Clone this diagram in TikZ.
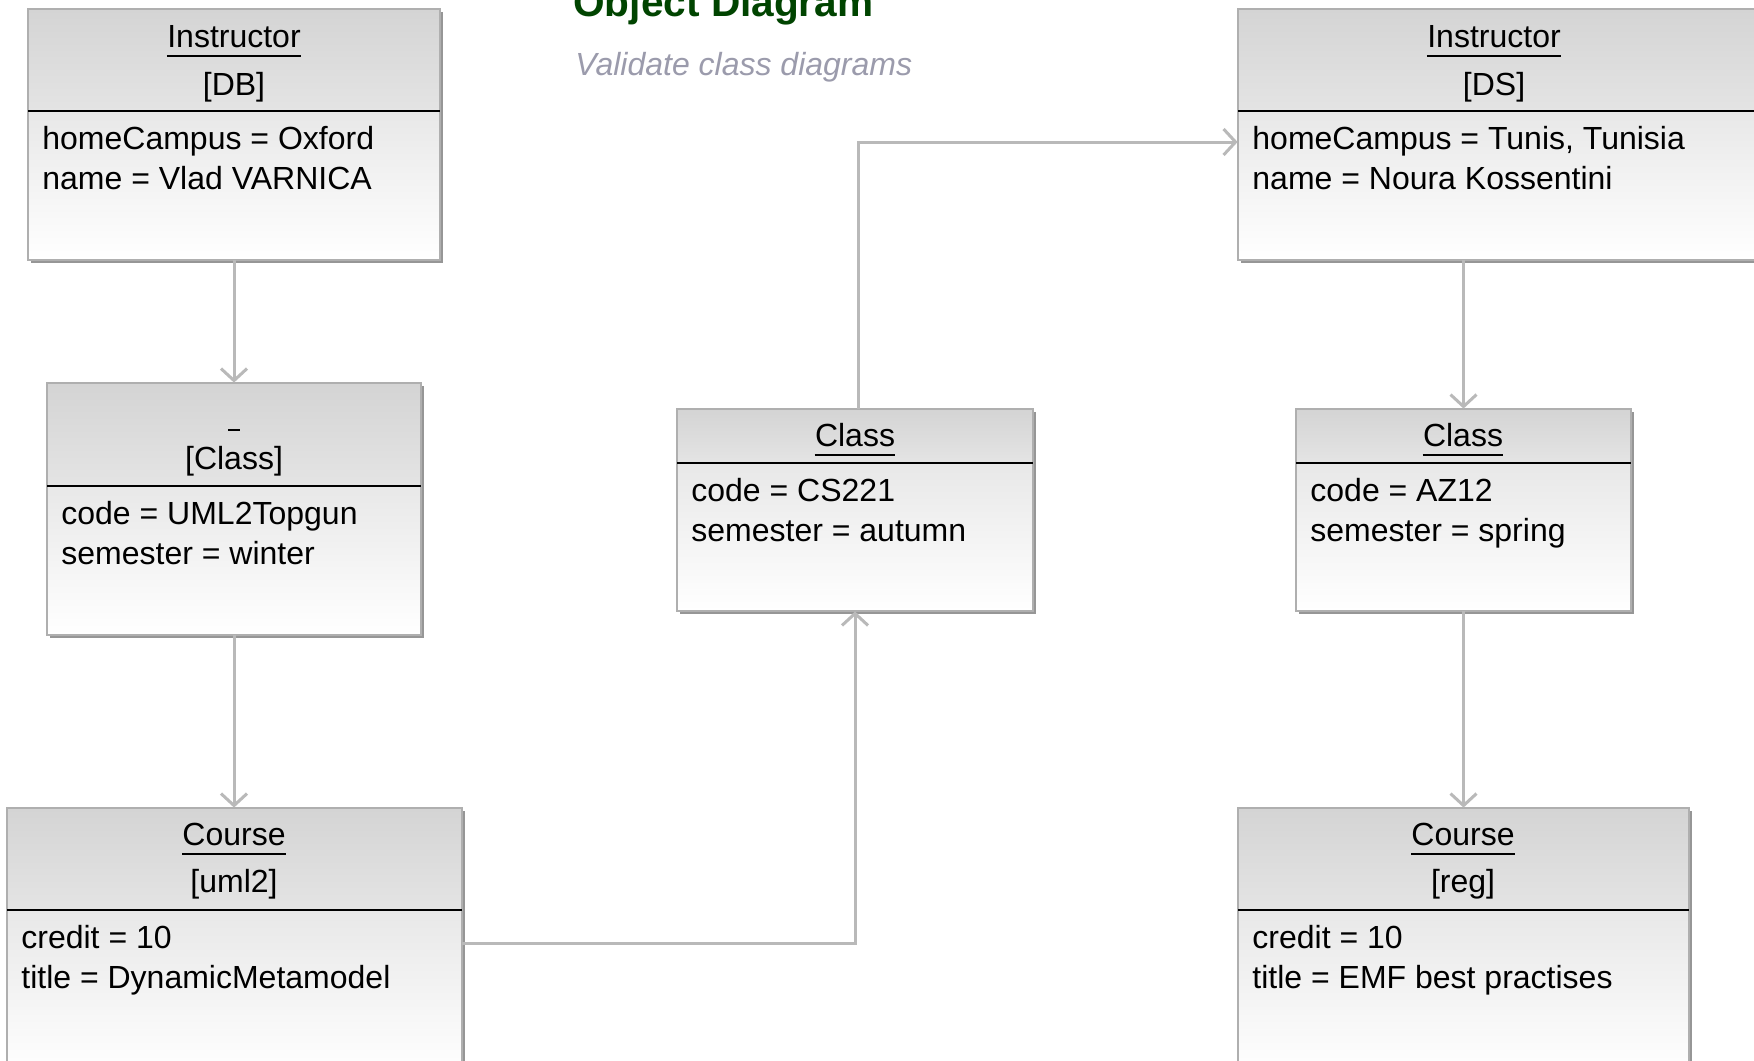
\documentclass[tikz,border=0pt]{standalone}
\usepackage{fontspec}
\setmainfont{Liberation Sans}
\usetikzlibrary{arrows.meta,fit}
\definecolor{conngray}{RGB}{185,185,185}
\definecolor{hdtop}{RGB}{212,212,212}
\definecolor{hdbot}{RGB}{228,228,228}
\definecolor{bdtop}{RGB}{232,232,232}
\definecolor{boxedge}{RGB}{175,175,175}
\definecolor{shadowgray}{RGB}{150,150,150}
\definecolor{titlegreen}{RGB}{0,68,0}
\definecolor{subgray}{RGB}{155,155,172}
\tikzset{
  txt/.style={inner sep=0pt, font=\fontsize{16}{20}\selectfont},
  conn/.style={draw=conngray, line width=1.5pt, -{Straight Barb[length=6pt,width=13pt]}},
}
\newcommand{\objbox}[6]{%
  \fill[shadowgray] (#2+3,#3+3) rectangle (#4+3,#5+3);
  \shade[top color=hdtop,bottom color=hdbot] (#2,#3) rectangle (#4,#6);
  \shade[top color=bdtop,bottom color=white] (#2,#6) rectangle (#4,#5);
  \draw[boxedge,line width=1pt] (#2,#3) rectangle (#4,#5);
  \draw[black,line width=1pt] (#2,#6) -- (#4,#6);
  \node[fit={(#2,#3) (#4,#5)},inner sep=0pt] (#1) {};
}
\newcommand{\ulname}[4]{%
  \node[txt,anchor=base] (#1) at (#2,#3) {#4};
  \draw[black,line width=1pt] ([yshift=-4.5pt]#1.base west) -- ([yshift=-4.5pt]#1.base east);
}
\begin{document}
\begin{tikzpicture}[x=0.5pt,y=-0.5pt]
\useasboundingbox (0,0) rectangle (1754,1060);
\clip (0,0) rectangle (1754,1060);
\fill[white] (0,0) rectangle (1754,1060);

% title
\node[inner sep=0pt,anchor=base west,font=\fontsize{20.3}{24}\selectfont\bfseries,text=titlegreen] (title) at (573,17) {Object Diagram};
\node[inner sep=0pt,anchor=base west,font=\fontsize{16}{20}\selectfont\itshape,text=subgray] (subtitle) at (575,75) {Validate class diagrams};

% Instructor [DB]
\objbox{db}{28}{9}{440}{260}{111}
\ulname{dbn}{234}{47}{Instructor}
\node[txt,anchor=base] (dbs) at (234,95) {[DB]};
\node[txt,anchor=base west] (dba1) at (42,149) {homeCampus = Oxford};
\node[txt,anchor=base west] (dba2) at (42,189) {name = Vlad VARNICA};

% _ [Class]
\objbox{cls}{47}{383}{421}{635}{486}
\ulname{clsn}{234}{421}{\rule{5.5pt}{0pt}}
\node[txt,anchor=base] (clss) at (234,469) {[Class]};
\node[txt,anchor=base west] (clsa1) at (61,524) {code = UML2Topgun};
\node[txt,anchor=base west] (clsa2) at (61,564) {semester = winter};

% Course [uml2]
\objbox{uml}{7}{808}{462}{1075}{910}
\ulname{umln}{234}{845}{Course}
\node[txt,anchor=base] (umls) at (234,892) {[uml2]};
\node[txt,anchor=base west] (umla1) at (21,948) {credit = 10};
\node[txt,anchor=base west] (umla2) at (21,988) {title = DynamicMetamodel};

% Class CS221
\objbox{cs}{677}{409}{1033}{611}{463}
\ulname{csn}{855}{446}{Class}
\node[txt,anchor=base west] (csa1) at (691,501) {code = CS221};
\node[txt,anchor=base west] (csa2) at (691,541) {semester = autumn};

% Instructor [DS]
\objbox{ds}{1238}{9}{1760}{260}{111}
\ulname{dsn}{1494}{47}{Instructor}
\node[txt,anchor=base] (dss) at (1494,95) {[DS]};
\node[txt,anchor=base west] (dsa1) at (1252,149) {homeCampus = Tunis, Tunisia};
\node[txt,anchor=base west] (dsa2) at (1252,189) {name = Noura Kossentini};

% Class AZ12
\objbox{az}{1296}{409}{1631}{611}{463}
\ulname{azn}{1463}{446}{Class}
\node[txt,anchor=base west] (aza1) at (1310,501) {code = AZ12};
\node[txt,anchor=base west] (aza2) at (1310,541) {semester = spring};

% Course [reg]
\objbox{reg}{1238}{808}{1689}{1075}{910}
\ulname{regn}{1463}{845}{Course}
\node[txt,anchor=base] (regs) at (1463,892) {[reg]};
\node[txt,anchor=base west] (rega1) at (1252,948) {credit = 10};
\node[txt,anchor=base west] (rega2) at (1252,988) {title = EMF best practises};

% connectors
\coordinate (c1) at (855,943);
\coordinate (c2) at (858,142);
\draw[conn] (db.south) -- (db.south |- cls.north);
\draw[conn] (cls.south) -- (cls.south |- uml.north);
\draw[conn] (c1 -| uml.east) -- (c1) -- (c1 |- cs.south);
\draw[conn] (c2 |- cs.north) -- (c2) -- (c2 -| ds.west);
\draw[conn] (az.north |- ds.south) -- (az.north);
\draw[conn] (az.south) -- (az.south |- reg.north);
\end{tikzpicture}
\end{document}
